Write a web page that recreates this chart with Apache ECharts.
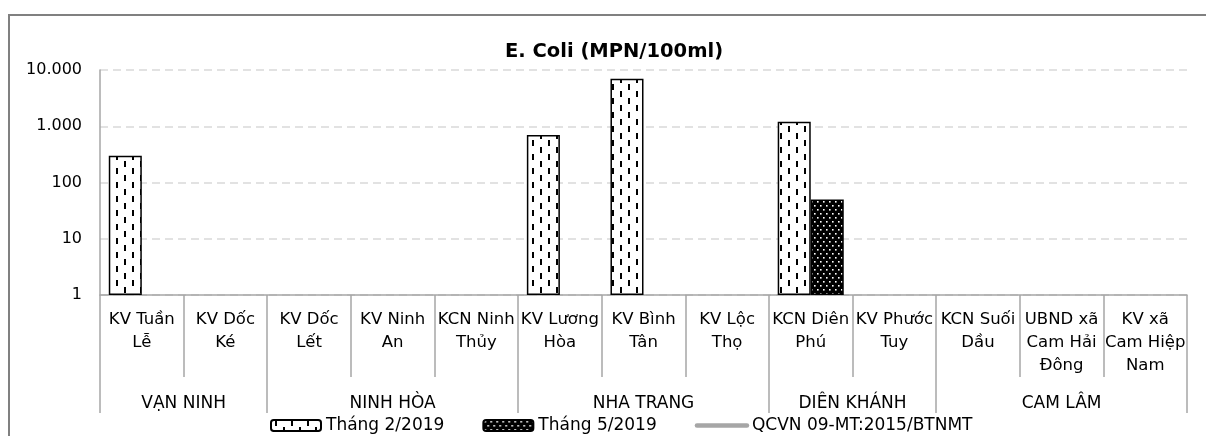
<!DOCTYPE html>
<html><head><meta charset="utf-8">
<script src="https://cdn.jsdelivr.net/npm/echarts@6/dist/echarts.min.js"></script>
<style>html,body{margin:0;padding:0;background:#fff}#c{width:1206px;height:436px}</style>
</head><body><div id="c"></div>
<script>
const categories = ['KV Tuần\nLễ','KV Dốc\nKé','KV Dốc\nLết','KV Ninh\nAn','KCN Ninh\nThủy','KV Lương\nHòa','KV Bình\nTân','KV Lộc\nThọ','KCN Diên\nPhú','KV Phước\nTuy','KCN Suối\nDầu','UBND xã\nCam Hải\nĐông','KV xã\nCam Hiệp\nNam'];
const groupNames = ['VẠN NINH','NINH HÒA','NHA TRANG','DIÊN KHÁNH','CAM LÂM'];
const groupSizes = [2,3,3,2,3];
const seriesNames = ['Tháng 2/2019','Tháng 5/2019','QCVN 09-MT:2015/BTNMT'];
const feb2019 = [300,null,null,null,null,700,7000,null,1200,null,null,null,null];
const may2019 = [null,null,null,null,null,null,null,null,50,null,null,null,null];
const qcvn = [];
const yMin = 1, yMax = 10000;

const FONT = 'DejaVu Sans';
function fmtNum(v){ return String(Math.round(v)).replace(/\B(?=(\d{3})+(?!\d))/g,'.'); }

function makePattern(kind){
  const c = document.createElement('canvas');
  const ctx = c.getContext('2d');
  if (kind === 'dash') {
    c.width = 16; c.height = 14;
    ctx.fillStyle = '#fff'; ctx.fillRect(0,0,16,14);
    ctx.fillStyle = '#000';
    ctx.fillRect(4,0,2,6);
    ctx.fillRect(12,7,2,6);
  } else {
    c.width = 6; c.height = 8;
    ctx.fillStyle = '#000'; ctx.fillRect(0,0,6,8);
    ctx.fillStyle = '#fff';
    ctx.fillRect(1,1,1.6,1.6);
    ctx.fillRect(4,5,1.6,1.6);
  }
  return {image: c, repeat: 'repeat'};
}

// group boundaries and centers from group sizes
const boundaries = [0];
const centers = [];
groupSizes.forEach(s => { const b = boundaries[boundaries.length-1]; centers.push(b + s/2); boundaries.push(b + s); });

const chart = echarts.init(document.getElementById('c'), null, {renderer:'canvas'});
chart.setOption({
  animation: false,
  textStyle: {fontFamily: FONT},
  graphic: [{
    type: 'rect', z: -1,
    shape: {x: 9, y: 15, width: 1230, height: 460},
    style: {fill: 'none', stroke: '#808080', lineWidth: 2}
  }],
  title: {
    text: 'E. Coli (MPN/100ml)',
    left: 500, top: 37,
    textStyle: {fontFamily: FONT, fontSize: 19.5, fontWeight: 'bold', color: '#000'}
  },
  legend: {
    left: 265, top: 412,
    itemWidth: 50, itemHeight: 11, itemGap: 38,
    textStyle: {fontFamily: FONT, fontSize: 17, color: '#000'},
    data: [
      {name: seriesNames[0]},
      {name: seriesNames[1]},
      {name: seriesNames[2],
       itemStyle: {color: 'rgba(0,0,0,0)', borderColor: 'rgba(0,0,0,0)', borderWidth: 0, opacity: 0},
       lineStyle: {color: '#a6a6a6', width: 4.5, cap: 'round'}}
    ]
  },
  grid: {left: 100, right: 19, top: 70, bottom: 141, containLabel: false},
  xAxis: [{
    type: 'category', data: categories, position: 'bottom',
    axisLine: {show: true, lineStyle: {color: '#a6a6a6', width: 1.5}},
    axisTick: {show: true, interval: 0, length: 82, lineStyle: {color: '#a6a6a6', width: 1.5}},
    axisLabel: {interval: 0, fontFamily: FONT, fontSize: 16.5, lineHeight: 23, color: '#000', margin: 13}
  }, {
    type: 'category', data: categories, position: 'bottom',
    axisLine: {show: false},
    axisTick: {show: true, length: 118, interval: (i) => boundaries.indexOf(i) >= 0, lineStyle: {color: '#a6a6a6', width: 1.5}},
    axisLabel: {show: false}
  }, {
    type: 'value', min: 0, max: categories.length, interval: 0.5, position: 'bottom',
    axisLine: {show: false}, axisTick: {show: false}, splitLine: {show: false},
    axisLabel: {
      fontFamily: FONT, fontSize: 17, lineHeight: 20, color: '#000', margin: 99,
      showMinLabel: true, showMaxLabel: true,
      formatter: (v) => { const k = centers.indexOf(v); return k >= 0 ? groupNames[k] : ''; }
    }
  }],
  yAxis: {
    type: 'log', logBase: 10, min: yMin, max: yMax,
    axisLine: {show: true, lineStyle: {color: '#a6a6a6', width: 1.5}},
    axisTick: {show: false},
    axisLabel: {fontFamily: FONT, fontSize: 16, color: '#000', margin: 18, formatter: fmtNum},
    splitLine: {show: true, lineStyle: {color: '#d9d9d9', width: 1.5, type: [8, 5]}}
  },
  series: [{
    name: seriesNames[0], type: 'bar', xAxisIndex: 0, data: feb2019,
    barGap: '0%', barCategoryGap: '21%',
    itemStyle: {color: makePattern('dash'), borderColor: '#000', borderWidth: 1.5}
  }, {
    name: seriesNames[1], type: 'bar', xAxisIndex: 0, data: may2019,
    barGap: '0%', barCategoryGap: '21%',
    itemStyle: {color: makePattern('dot'), borderColor: '#000', borderWidth: 1.5}
  }, {
    name: seriesNames[2], type: 'line', xAxisIndex: 0, data: qcvn,
    symbol: 'none', color: '#a6a6a6',
    lineStyle: {color: '#a6a6a6', width: 4, cap: 'round'}
  }]
});
</script></body></html>
